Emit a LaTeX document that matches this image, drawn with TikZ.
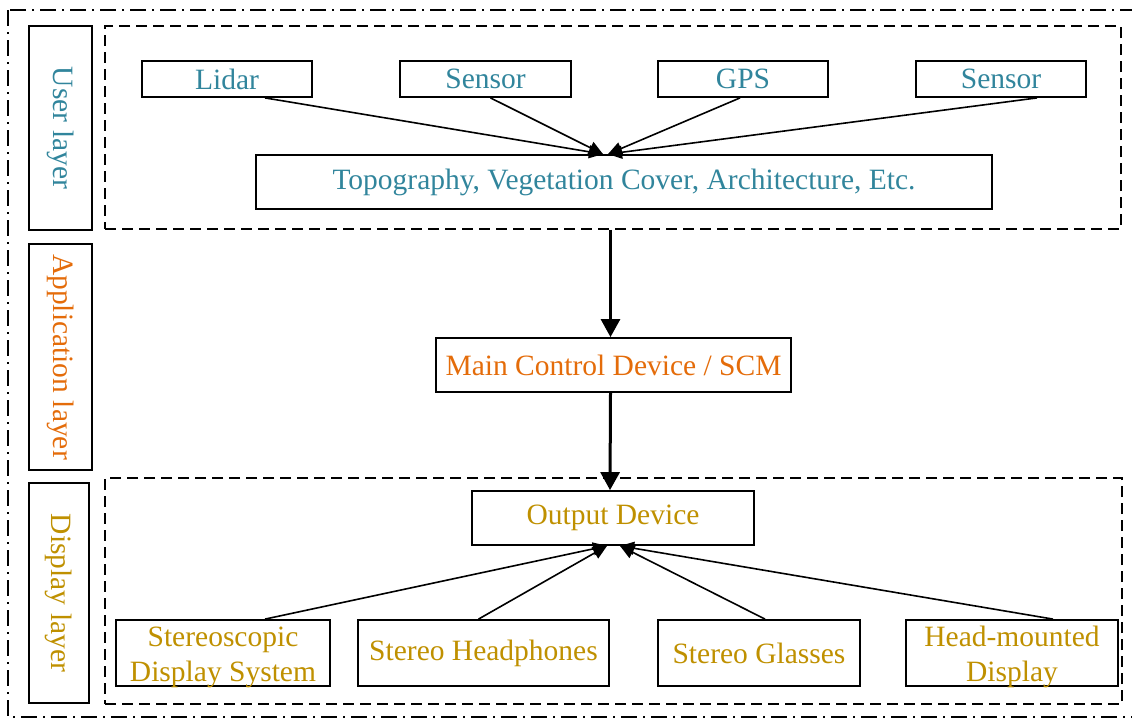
\documentclass[tikz,border=0pt]{standalone}
\usepackage{fontspec}
\setmainfont{Liberation Serif}
\usetikzlibrary{arrows.meta}
\definecolor{teal}{HTML}{31859C}
\definecolor{orng}{HTML}{E46C0A}
\definecolor{gold}{HTML}{BF9000}
\tikzset{
  box/.style={draw, line width=1.8pt, inner sep=0pt, align=center, font=\fontsize{29.5}{35}\selectfont},
  layerbox/.style={box, rotate=-90},
  dashbox/.style={draw, line width=1.6pt, dash pattern=on 11pt off 6pt},
  thin arrow/.style={line width=1.6pt, -{Triangle[length=14pt,width=13pt]}},
  thick arrow/.style={line width=3pt, -{Triangle[length=18pt,width=19pt]}},
}
\begin{document}
\begin{tikzpicture}[x=1pt,y=-1pt]
\useasboundingbox (0,0) rectangle (1132,720);
% outer frame
\draw[line width=1.3pt, dash pattern=on 16pt off 6pt on 2pt off 6pt] (8,10) rectangle (1140,717);
% dashed group boxes
\node[dashbox, minimum width=1016pt, minimum height=203pt, inner sep=0pt] (userbox) at (613,127.5) {};
\node[dashbox, minimum width=1017pt, minimum height=226pt, inner sep=0pt] (dispbox) at (613.5,591) {};
% layer labels
\node[layerbox, text=teal, minimum width=204pt, minimum height=63pt] (ul) at (60.5,128) {User layer};
\node[layerbox, text=orng, minimum width=226pt, minimum height=63pt] (al) at (60.5,357) {Application layer};
\node[layerbox, text=gold, minimum width=220pt, minimum height=60pt] (dl) at (59,593) {Display layer};
% user layer
\node[box, text=teal, minimum width=170pt, minimum height=36pt] (lidar) at (227,79) {Lidar};
\node[box, text=teal, minimum width=171pt, minimum height=36pt] (sens1) at (485.5,79) {Sensor};
\node[box, text=teal, minimum width=170pt, minimum height=36pt] (gps) at (743,79) {GPS};
\node[box, text=teal, minimum width=170pt, minimum height=36pt] (sens2) at (1001,79) {Sensor};
\node[box, text=teal, minimum width=736pt, minimum height=54pt] (topo) at (624,182) {Topography, Vegetation Cover, Architecture, Etc.};
% application
\node[box, text=orng, minimum width=355pt, minimum height=54pt] (main) at (613.5,365) {Main Control Device / SCM};
% display
\node[box, text=gold, minimum width=282pt, minimum height=54pt] (out) at (613,518) {Output Device};
\node[box, text=gold, minimum width=214pt, minimum height=66pt] (stsys) at (223,653) {};
\node[box, draw=none, text=gold] (stsyst) at ([yshift=-4pt]stsys.center) {Stereoscopic\\Display System};
\node[box, text=gold, minimum width=251pt, minimum height=66pt] (sthp) at (483.5,653) {Stereo Headphones};
\node[box, text=gold, minimum width=202pt, minimum height=66pt] (stgl) at (759,653) {Stereo Glasses};
\node[box, text=gold, minimum width=212pt, minimum height=66pt] (hmd) at (1012,653) {};
\node[box, draw=none, text=gold] (hmdt) at ([yshift=-4pt]hmd.center) {Head-mounted\\Display};
% connectors top
\draw[thin arrow] ([xshift=38pt]lidar.south) -- ([xshift=-21pt]topo.north);
\draw[thin arrow] ([xshift=5pt]sens1.south) -- ([xshift=-21pt]topo.north);
\draw[thin arrow] ([xshift=-3pt]gps.south) -- ([xshift=-16pt]topo.north);
\draw[thin arrow] ([xshift=36pt]sens2.south) -- ([xshift=-16pt]topo.north);
% vertical
\draw[thick arrow] ([xshift=-3pt]userbox.south -| main.north) -- ([xshift=-3pt]main.north);
\draw[thick arrow] ([xshift=-3pt]main.south) -- ([xshift=-3pt]out.north);
% connectors bottom
\draw[thin arrow] ([xshift=42pt]stsys.north) -- ([xshift=-6pt]out.south);
\draw[thin arrow] ([xshift=-5pt]sthp.north) -- ([xshift=-6pt]out.south);
\draw[thin arrow] ([xshift=6pt]stgl.north) -- ([xshift=7pt]out.south);
\draw[thin arrow] ([xshift=41pt]hmd.north) -- ([xshift=7pt]out.south);
\end{tikzpicture}
\end{document}
